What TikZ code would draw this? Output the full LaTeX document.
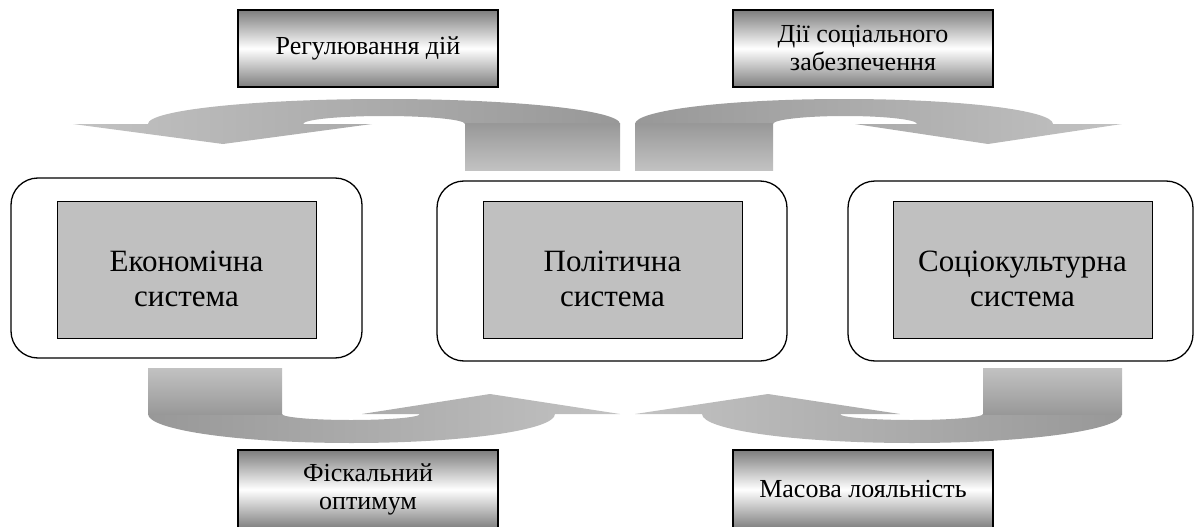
\documentclass[tikz,border=0pt]{standalone}
\usepackage{fontspec}
\setmainfont{Liberation Serif}
\definecolor{boxgray}{RGB}{192,192,192}
\definecolor{edgegray}{RGB}{125,125,125}
\definecolor{arrlight}{RGB}{194,194,194}
\definecolor{arrdark}{RGB}{152,152,152}
\newcommand{\lift}{\rule{0pt}{40pt}}
\begin{document}
\begin{tikzpicture}[x=1pt,y=-1pt,
  frame/.style={draw=black,line width=1.3pt,rounded corners=27pt,inner sep=0pt},
  sysbox/.style={draw=black,line width=0.9pt,fill=boxgray,inner sep=0pt,align=center,
    minimum width=259pt,minimum height=137pt,font=\fontsize{31}{35}\selectfont},
  labelbox/.style={draw=black,line width=1.3pt,top color=edgegray,bottom color=edgegray,
    middle color=white,inner sep=0pt,align=center,minimum width=260pt,minimum height=77pt,
    font=\fontsize{26}{28}\selectfont},
]
\useasboundingbox (0,0) rectangle (1194,527);

% ---------- block arrows ----------
% top-left arrow (stem at 465..620, head pointing down at 223)
\shade[left color=arrlight,right color=arrdark]
  (620,124) arc[start angle=0,end angle=-180,x radius=236,y radius=25]
  -- (73,124) -- (223,144) -- (372,124) -- (303,124)
  arc[start angle=180,end angle=360,x radius=81,y radius=8] -- cycle;
\shade[top color=arrdark,bottom color=arrlight] (465,123.5) rectangle (620,170);

% top-right arrow (stem at 635..773, head pointing down at 988)
\shade[left color=arrdark,right color=arrlight]
  (635,124) arc[start angle=180,end angle=360,x radius=209,y radius=25]
  -- (1122,124) -- (988,144) -- (855,124) -- (917,124)
  arc[start angle=0,end angle=-180,x radius=72,y radius=8] -- cycle;
\shade[top color=arrdark,bottom color=arrlight] (635,123.5) rectangle (773,170);

% bottom-left arrow (stem at 148..282, head pointing up at 490)
\shade[left color=arrdark,right color=arrlight]
  (148,414) arc[start angle=180,end angle=0,x radius=203.5,y radius=29]
  -- (620,414) -- (490,394) -- (362,414) -- (420,414)
  arc[start angle=0,end angle=180,x radius=69,y radius=6] -- cycle;
\shade[top color=arrlight,bottom color=arrdark] (148,368) rectangle (282,414.5);

% bottom-right arrow (stem at 983..1122, head pointing up at 768)
\shade[left color=arrlight,right color=arrdark]
  (1122,414) arc[start angle=0,end angle=180,x radius=210,y radius=29]
  -- (635,414) -- (768,394) -- (900,414) -- (840,414)
  arc[start angle=180,end angle=0,x radius=71.5,y radius=6] -- cycle;
\shade[top color=arrlight,bottom color=arrdark] (983,368) rectangle (1122,414.5);

% ---------- system frames ----------
\node[frame,minimum width=351pt,minimum height=180pt] (econF) at (186.5,268) {};
\node[frame,minimum width=350pt,minimum height=180pt] (polF) at (612,271) {};
\node[frame,minimum width=345pt,minimum height=180pt] (socF) at (1020.5,271) {};

\node[sysbox] (econ) at (186.5,269.5) {\lift Економічна\\система};
\node[sysbox] (pol) at (612.5,269.5) {\lift Політична\\система};
\node[sysbox] (soc) at (1022.5,269.5) {\lift Соціокультурна\\система};

% ---------- label boxes ----------
\node[labelbox] (reg) at (368,48.5) {Регулювання дій};
\node[labelbox] (soczab) at (863,48.5) {Дії соціального\\забезпечення};
\node[labelbox,minimum height=79pt] (fisc) at (368,489.5) {Фіскальний\\оптимум};
\node[labelbox,minimum height=79pt] (loyal) at (863,489.5) {Масова лояльність};
\end{tikzpicture}
\end{document}
